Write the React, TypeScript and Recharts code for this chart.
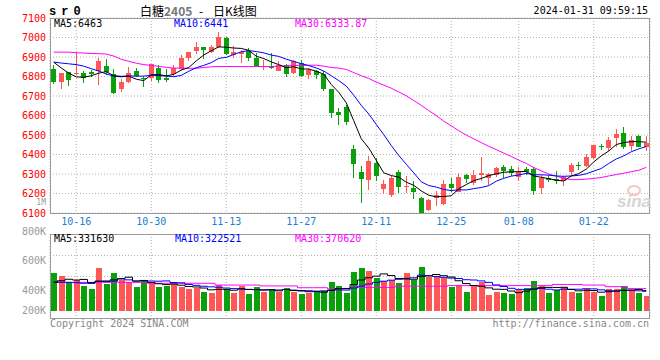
import React from "react";
import { ComposedChart, Bar, Line, XAxis, YAxis, CartesianGrid } from "recharts";

// ---------- data ----------
const dates = [
  "10-11","10-12","10-13","10-16","10-17","10-18","10-19","10-20","10-23","10-24",
  "10-25","10-26","10-27","10-30","10-31","11-01","11-02","11-03","11-06","11-07",
  "11-08","11-09","11-10","11-13","11-14","11-15","11-16","11-17","11-20","11-21",
  "11-22","11-23","11-24","11-27","11-28","11-29","11-30","12-01","12-04","12-05",
  "12-06","12-07","12-08","12-11","12-12","12-13","12-14","12-15","12-18","12-19",
  "12-20","12-21","12-22","12-25","12-26","12-27","12-28","12-29","01-02","01-03",
  "01-04","01-05","01-08","01-09","01-10","01-11","01-12","01-15","01-16","01-17",
  "01-18","01-19","01-22","01-23","01-24","01-25","01-26","01-29","01-30","01-31",
];

const opens = [
  6838, 6773, 6822, 6812, 6817, 6822, 6826, 6855, 6812, 6737,
  6772, 6829, 6793, 6792, 6843, 6793, 6814, 6839, 6897, 6932,
  6950, 6925, 6950, 6997, 6911, 6914, 6933, 6897, 6848, 6855,
  6829, 6860, 6817, 6868, 6809, 6826, 6812, 6735, 6617, 6643,
  6428, 6310, 6270, 6356, 6224, 6193, 6310, 6236, 6228, 6176,
  6116, 6176, 6147, 6250, 6210, 6296, 6253, 6296, 6279, 6296,
  6335, 6325, 6287, 6325, 6325, 6227, 6282, 6274, 6262, 6310,
  6347, 6339, 6381, 6445, 6433, 6484, 6509, 6446, 6496, 6440,
];
const highs = [
  6860, 6818, 6825, 6925, 6826, 6832, 6894, 6889, 6840, 6788,
  6848, 6843, 6803, 6865, 6860, 6839, 6860, 6911, 6926, 6976,
  6952, 6962, 7027, 7005, 6954, 6937, 6945, 6920, 6885, 6920,
  6877, 6863, 6886, 6886, 6846, 6834, 6826, 6737, 6638, 6655,
  6450, 6342, 6390, 6381, 6267, 6292, 6322, 6291, 6262, 6180,
  6173, 6214, 6267, 6279, 6304, 6298, 6322, 6385, 6305, 6334,
  6347, 6342, 6335, 6334, 6334, 6296, 6296, 6316, 6291, 6356,
  6361, 6402, 6450, 6453, 6492, 6530, 6540, 6496, 6498, 6496,
];
const lows = [
  6762, 6735, 6752, 6806, 6766, 6800, 6757, 6809, 6710, 6723,
  6765, 6797, 6745, 6775, 6766, 6771, 6805, 6834, 6880, 6916,
  6890, 6920, 6948, 6908, 6894, 6868, 6882, 6848, 6834, 6839,
  6826, 6795, 6814, 6800, 6788, 6788, 6727, 6586, 6552, 6552,
  6278, 6151, 6219, 6265, 6197, 6180, 6205, 6202, 6173, 6100,
  6111, 6134, 6142, 6210, 6208, 6253, 6245, 6265, 6245, 6287,
  6282, 6291, 6265, 6296, 6193, 6197, 6257, 6248, 6236, 6296,
  6322, 6334, 6376, 6421, 6419, 6438, 6429, 6419, 6436, 6416,
];
const closes = [
  6771, 6816, 6781, 6819, 6791, 6813, 6880, 6821, 6716, 6774,
  6818, 6803, 6785, 6863, 6781, 6783, 6843, 6897, 6925, 6950,
  6936, 6950, 7000, 6916, 6928, 6928, 6897, 6851, 6855, 6843,
  6860, 6814, 6877, 6803, 6834, 6809, 6735, 6612, 6604, 6566,
  6350, 6274, 6369, 6291, 6248, 6279, 6233, 6240, 6210, 6102,
  6168, 6193, 6250, 6228, 6284, 6274, 6296, 6304, 6301, 6330,
  6316, 6304, 6308, 6308, 6214, 6282, 6270, 6265, 6287, 6347,
  6342, 6385, 6450, 6440, 6475, 6504, 6438, 6475, 6436, 6458,
];
const ma5 = [
  6873, 6844, 6817, 6798, 6796, 6804, 6817, 6825, 6804, 6801,
  6802, 6786, 6779, 6809, 6810, 6803, 6811, 6833, 6846, 6880,
  6910, 6932, 6952, 6950, 6946, 6944, 6934, 6904, 6892, 6875,
  6861, 6845, 6850, 6839, 6838, 6827, 6812, 6759, 6719, 6665,
  6573, 6481, 6433, 6370, 6306, 6292, 6284, 6258, 6242, 6213,
  6191, 6183, 6185, 6188, 6225, 6246, 6266, 6277, 6292, 6301,
  6309, 6311, 6312, 6313, 6290, 6283, 6276, 6268, 6264, 6290,
  6302, 6325, 6362, 6393, 6418, 6451, 6461, 6466, 6466, 6463,
];
const ma10 = [
  6874, 6869, 6865, 6861, 6853, 6840, 6828, 6813, 6802, 6798,
  6803, 6802, 6802, 6806, 6805, 6802, 6799, 6806, 6827, 6845,
  6857, 6871, 6893, 6898, 6913, 6927, 6933, 6928, 6921, 6910,
  6903, 6889, 6877, 6866, 6856, 6844, 6828, 6804, 6779, 6751,
  6704, 6652, 6608, 6554, 6502, 6446, 6395, 6350, 6306, 6260,
  6241, 6233, 6221, 6215, 6219, 6218, 6225, 6231, 6240, 6263,
  6278, 6289, 6295, 6303, 6296, 6296, 6294, 6290, 6288, 6290,
  6293, 6301, 6315, 6328, 6354, 6377, 6393, 6414, 6429, 6441,
];
const ma30 = [
  6925, 6925, 6925, 6922, 6920, 6918, 6917, 6915, 6905, 6888,
  6878, 6868, 6861, 6857, 6852, 6847, 6843, 6843, 6842, 6842,
  6846, 6850, 6851, 6851, 6851, 6851, 6851, 6851, 6851, 6851,
  6854, 6854, 6857, 6857, 6858, 6858, 6853, 6846, 6843, 6836,
  6820, 6804, 6790, 6771, 6756, 6740, 6721, 6701, 6677, 6652,
  6625, 6600, 6571, 6547, 6522, 6500, 6480, 6461, 6442, 6425,
  6407, 6390, 6371, 6354, 6333, 6316, 6300, 6289, 6278, 6271,
  6271, 6274, 6277, 6282, 6290, 6297, 6304, 6312, 6319, 6334,
];
// volumes, in thousands of lots (K)
const volumes = [
  519, 499, 454, 470, 430, 409, 553, 443, 519, 470,
  459, 425, 463, 454, 425, 430, 441, 425, 407, 414,
  391, 385, 436, 407, 385, 432, 376, 425, 391, 403,
  391, 418, 391, 376, 380, 396, 396, 457, 430, 385,
  526, 553, 533, 481, 463, 470, 452, 519, 470, 560,
  488, 497, 481, 425, 436, 391, 430, 459, 369, 391,
  385, 376, 403, 418, 465, 430, 385, 403, 421, 391,
  385, 407, 391, 364, 407, 407, 430, 403, 385, 364,
];
const volMa5 = [
  454, 465, 475, 470, 474, 452, 463, 461, 471, 479,
  489, 463, 467, 454, 445, 439, 443, 435, 426, 423,
  416, 404, 407, 407, 401, 409, 407, 405, 402, 405,
  397, 406, 399, 396, 391, 392, 388, 401, 412, 413,
  439, 470, 485, 496, 511, 500, 480, 477, 475, 494,
  498, 507, 499, 490, 465, 446, 433, 428, 417, 408,
  407, 396, 385, 395, 409, 418, 420, 420, 421, 406,
  397, 401, 399, 388, 391, 395, 400, 402, 406, 398,
];
const volMa10 = [
  458, 455, 454, 452, 448, 447, 460, 463, 462, 477,
  471, 463, 464, 463, 462, 464, 453, 451, 440, 434,
  428, 424, 421, 416, 412, 412, 406, 406, 404, 403,
  403, 406, 402, 399, 398, 395, 397, 400, 404, 402,
  416, 429, 443, 454, 462, 469, 475, 481, 485, 503,
  499, 493, 488, 483, 480, 472, 470, 464, 454, 437,
  426, 414, 407, 406, 409, 413, 408, 403, 408, 408,
  408, 411, 410, 404, 398, 396, 401, 401, 397, 394,
];
const volMa30 = [
  454, 454, 454, 454, 454, 454, 454, 454, 454, 454,
  454, 454, 454, 448, 448, 448, 448, 448, 448, 448,
  448, 448, 436, 436, 436, 436, 436, 436, 430, 430,
  430, 430, 430, 418, 418, 418, 418, 410, 410, 410,
  420, 420, 420, 420, 420, 420, 428, 428, 428, 428,
  428, 428, 428, 432, 432, 432, 432, 432, 432, 432,
  432, 432, 432, 432, 432, 432, 432, 440, 440, 440,
  440, 436, 436, 436, 425, 425, 425, 412, 412, 412,
];

const dateTicks = ["10-16", "10-30", "11-13", "11-27", "12-11", "12-25", "01-08", "01-22"];
const priceTicks = [6100, 6200, 6300, 6400, 6500, 6600, 6700, 6800, 6900, 7000, 7100];
const priceDomain = [6100, 7100];
const volumeTicks = [200, 400, 600, 800];
const volumeDomain = [214, 780];
const VOLUME_BASE = 261;

// ---------- styles ----------
const RED = "#ff5656";
const GREEN = "#09a00b";
const GRID = "#b4b4b4";
const BOX = "#9a9a9a";
const BLUE_TICK = "#1a80d0";
const MONO = "'DejaVu Sans Mono', monospace";
const CJK = "'Noto Sans CJK SC', sans-serif";

const priceRows = dates.map((date, i) => ({
  date,
  open: opens[i],
  high: highs[i],
  low: lows[i],
  close: closes[i],
  ma5: ma5[i],
  ma10: ma10[i],
  ma30: ma30[i],
}));

const volumeRows = dates.map((date, i) => ({
  date,
  volume: volumes[i],
  rising: closes[i] >= opens[i],
  ma5: volMa5[i],
  ma10: volMa10[i],
  ma30: volMa30[i],
}));

function Candle(props: any) {
  const { x, y, width, height, payload } = props;
  if (![x, y, width, height].every((v) => Number.isFinite(v))) return null;
  const { open, close, high, low } = payload;
  const color = close >= open ? RED : GREEN;
  const span = high - low;
  const yOf = (v: number) => (span > 0 ? y + ((high - v) / span) * height : y);
  const left = Math.round(x);
  const w = Math.max(1, Math.round(width));
  const mid = left + Math.floor(w / 2) + 0.5;
  const bodyTop = Math.round(Math.min(yOf(open), yOf(close)));
  const bodyBottom = Math.round(Math.max(yOf(open), yOf(close)));
  return (
    <g>
      <line x1={mid} x2={mid} y1={Math.round(y)} y2={Math.round(y + height)} stroke={color} strokeWidth={1} />
      <rect x={left} y={bodyTop} width={w} height={Math.max(1, bodyBottom - bodyTop)} fill={color} />
    </g>
  );
}

function VolumeBar(props: any) {
  const { x, y, width, height, payload } = props;
  if (![x, y, width, height].every((v) => Number.isFinite(v))) return null;
  const a = Math.round(y);
  const b = Math.round(y + height);
  const top = Math.min(a, b);
  const bottom = Math.max(a, b);
  return (
    <rect
      x={Math.round(x)}
      y={top}
      width={Math.round(width)}
      height={bottom - top}
      fill={payload.rising ? RED : GREEN}
    />
  );
}

function VolumeTick(props: any) {
  const { x, y, payload } = props;
  return (
    <text
      x={x}
      y={Math.min(y, 84)}
      dy="0.355em"
      textAnchor="end"
      fill="#999999"
      fontSize={10}
      fontFamily={MONO}
    >
      {`${payload.value}K`}
    </text>
  );
}

function Txt(props: any) {
  const { left, right, top, color = "#000", size = 10, family = MONO, weight = "normal", spacing, style, children } = props;
  return (
    <div
      style={{
        position: "absolute",
        left,
        right,
        top,
        color,
        fontSize: size,
        lineHeight: `${size}px`,
        fontFamily: family,
        fontWeight: weight,
        letterSpacing: spacing,
        whiteSpace: "nowrap",
        ...style,
      }}
    >
      {children}
    </div>
  );
}

export default function App() {
  return (
    <div style={{ position: "absolute", left: 0, top: 0, width: 660, height: 360, background: "#fff", overflow: "hidden" }}>
      {/* price panel */}
      <div style={{ position: "absolute", left: 0, top: 0 }}>
        <ComposedChart width={660} height={232} data={priceRows} margin={{ top: 18, right: 10, bottom: 0, left: 0 }}>
          <CartesianGrid stroke={GRID} strokeDasharray="1 2" />
          <XAxis
            dataKey="date"
            ticks={dateTicks}
            interval={0}
            tickLine={false}
            axisLine={false}
            tickSize={0}
            tickMargin={5}
            height={19}
            tick={{ fill: BLUE_TICK, fontSize: 10, fontFamily: MONO }}
          />
          <YAxis
            domain={priceDomain}
            ticks={priceTicks}
            interval={0}
            allowDataOverflow
            width={50}
            tickLine={false}
            axisLine={false}
            tickSize={0}
            tickMargin={4}
            tick={{ fill: "#ff0000", fontSize: 10, fontFamily: MONO }}
          />
          <Bar dataKey={(d: any) => [d.low, d.high]} shape={Candle} barSize={5} isAnimationActive={false} />
          <Line type="linear" dataKey="ma30" stroke="#ff00ff" strokeWidth={1} dot={false} activeDot={false} isAnimationActive={false} />
          <Line type="linear" dataKey="ma10" stroke="#0000ff" strokeWidth={1} dot={false} activeDot={false} isAnimationActive={false} />
          <Line type="linear" dataKey="ma5" stroke="#000000" strokeWidth={1} dot={false} activeDot={false} isAnimationActive={false} />
        </ComposedChart>
      </div>

      {/* volume panel */}
      <div style={{ position: "absolute", left: 0, top: 226 }}>
        <ComposedChart width={660} height={92} data={volumeRows} margin={{ top: 8, right: 10, bottom: 0, left: 0 }}>
          <CartesianGrid
            stroke={GRID}
            strokeDasharray="1 2"
            horizontalCoordinatesGenerator={({ offset }: any) => [0.25, 0.5, 0.75].map((q) => Math.round(offset.top + offset.height * q) + 0.5)}
          />
          <XAxis dataKey="date" ticks={dateTicks} interval={0} hide />
          <YAxis
            domain={volumeDomain}
            ticks={volumeTicks}
            interval={0}
            allowDataOverflow
            width={50}
            tickLine={false}
            axisLine={false}
            tickSize={0}
            tickMargin={4}
            tick={VolumeTick}
          />
          <Bar dataKey={(d: any) => [VOLUME_BASE, d.volume]} shape={VolumeBar} barSize={6} isAnimationActive={false} />
          <Line type="step" dataKey="ma30" stroke="#ff00ff" strokeWidth={1} dot={false} activeDot={false} isAnimationActive={false} />
          <Line type="step" dataKey="ma10" stroke="#0000ff" strokeWidth={1} dot={false} activeDot={false} isAnimationActive={false} />
          <Line type="step" dataKey="ma5" stroke="#000000" strokeWidth={1} dot={false} activeDot={false} isAnimationActive={false} />
        </ComposedChart>
      </div>

      {/* panel frames */}
      <div style={{ position: "absolute", left: 50, top: 18, width: 600, height: 196, boxSizing: "border-box", border: `1px solid ${BOX}` }} />
      <div style={{ position: "absolute", left: 50, top: 234, width: 600, height: 85, boxSizing: "border-box", border: `1px solid ${BOX}` }} />

      {/* header */}
      <Txt left={49} top={6} size={12} weight="bold" spacing="5px" family="'Liberation Mono', monospace">sr0</Txt>
      <Txt left={140} top={5} size={12} family={CJK}>白糖</Txt>
      <Txt left={164} top={5} size={12} family={CJK} weight="bold" color="#777777">2405</Txt>
      <Txt left={199} top={5} size={12} family={CJK}>-</Txt>
      <Txt left={213} top={5} size={12} family={CJK}>日K线图</Txt>
      <Txt right={12} top={6}>2024-01-31 09:59:15</Txt>

      {/* price legend */}
      <Txt left={54} top={19}>MA5:6463</Txt>
      <Txt left={174} top={19} color="#0000ff">MA10:6441</Txt>
      <Txt left={295} top={19} color="#ff00ff">MA30:6333.87</Txt>
      <Txt right={614} top={199} size={8} color="#999999">1M</Txt>

      {/* volume legend */}
      <Txt left={54} top={234}>MA5:331630</Txt>
      <Txt left={175} top={234} color="#0000ff">MA10:322521</Txt>
      <Txt left={295} top={234} color="#ff00ff">MA30:370620</Txt>

      {/* watermark */}
      <div style={{ position: "absolute", left: 627, top: 185, width: 10, height: 7, borderRadius: "50%", border: "2px solid #f6c6c6" }} />
      <Txt left={617} top={193} size={17} weight="bold" color="#d6d6d6" family="'Liberation Sans', sans-serif" style={{ fontStyle: "italic" }}>sina</Txt>

      {/* footer */}
      <Txt left={50} top={319} color="#888888">Copyright 2024 SINA.COM</Txt>
      <Txt right={11} top={319} color="#888888">http://finance.sina.com.cn</Txt>
    </div>
  );
}
